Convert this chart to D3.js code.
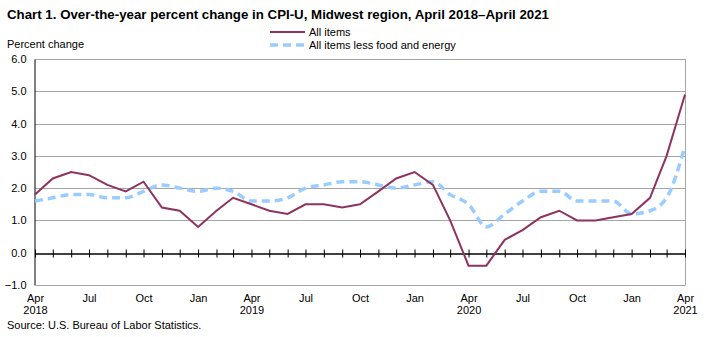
<!DOCTYPE html>
<html>
<head>
<meta charset="utf-8">
<script src="https://cdn.jsdelivr.net/npm/d3@7"></script>
<style>
  body { margin: 0; background: #fff; }
  svg { display: block; font-family: "Liberation Sans", Arial, sans-serif; }
</style>
</head>
<body>
<div id="chart"></div>
<script>
// Monthly over-the-year % change, Apr 2018 .. Apr 2021
var months = d3.range(37).map(function(i) { return new Date(2018, 3 + i, 1); });
var allItems = [1.8, 2.3, 2.5, 2.4, 2.1, 1.9, 2.2, 1.4, 1.3, 0.8, 1.3, 1.7,
                1.5, 1.3, 1.2, 1.5, 1.5, 1.4, 1.5, 1.9, 2.3, 2.5, 2.1, 1.0,
                -0.4, -0.4, 0.4, 0.7, 1.1, 1.3, 1.0, 1.0, 1.1, 1.2, 1.7, 3.0,
                4.9];
var coreItems = [1.6, 1.7, 1.8, 1.8, 1.7, 1.7, 1.9, 2.1, 2.0, 1.9, 2.0, 1.9,
                 1.6, 1.6, 1.7, 2.0, 2.1, 2.2, 2.2, 2.1, 2.0, 2.1, 2.2, 1.8,
                 1.5, 0.8, 1.2, 1.6, 1.9, 1.9, 1.6, 1.6, 1.6, 1.2, 1.3, 1.7,
                 3.3];
var yTicks = [-1, 0, 1, 2, 3, 4, 5, 6];
var monthNames = {0: "Jan", 3: "Apr", 6: "Jul", 9: "Oct"};

var W = 712, H = 337;
var margin = {top: 59, right: 27, bottom: 52, left: 35};
var width = W - margin.left - margin.right,
    height = H - margin.top - margin.bottom;

var svg = d3.select("#chart").append("svg")
    .attr("width", W)
    .attr("height", H);

svg.append("text")
    .attr("x", 7).attr("y", 19)
    .attr("font-size", 13).attr("font-weight", "bold")
    .attr("textLength", 542).attr("lengthAdjust", "spacingAndGlyphs")
    .text("Chart 1. Over-the-year percent change in CPI-U, Midwest region, April 2018\u2013April 2021");

svg.append("text")
    .attr("x", 7).attr("y", 48)
    .attr("font-size", 11)
    .text("Percent change");

svg.append("text")
    .attr("x", 7).attr("y", 329)
    .attr("font-size", 11)
    .text("Source: U.S. Bureau of Labor Statistics.");

var g = svg.append("g")
    .attr("transform", "translate(" + margin.left + "," + margin.top + ")");

var x = d3.scaleTime()
    .domain([months[0], months[months.length - 1]])
    .range([0, width]);
var y = d3.scaleLinear()
    .domain([-1, 6])
    .range([height, 0]);

// gridlines + frame
g.selectAll(".grid")
  .data(yTicks.filter(function(d) { return d !== 0; }))
  .enter().append("line")
    .attr("x1", 0).attr("x2", width)
    .attr("y1", function(d) { return Math.round(y(d)) + 0.5; })
    .attr("y2", function(d) { return Math.round(y(d)) + 0.5; })
    .attr("stroke", "#a6a6a6");
g.append("line")
    .attr("x1", width + 0.5).attr("x2", width + 0.5)
    .attr("y1", 0).attr("y2", height)
    .attr("stroke", "#a6a6a6");

// y axis
var yAxis = g.append("g")
    .attr("transform", "translate(-0.5,0)")
    .call(d3.axisLeft(y).tickValues(yTicks).tickSize(0).tickPadding(8)
      .tickFormat(d3.format(".1f")));
yAxis.select(".domain").attr("stroke", "#000");
yAxis.selectAll("text").attr("font-size", 11).attr("fill", "#000")
    .attr("font-family", "Liberation Sans, Arial, sans-serif");

// zero line with monthly ticks
var zero = g.append("g")
    .attr("transform", "translate(0," + (Math.round(y(0)) + 0.5) + ")")
    .call(d3.axisBottom(x).tickValues(months).tickSizeInner(4).tickSizeOuter(0)
      .tickFormat(""));
zero.select(".domain").attr("stroke", "#000").attr("stroke-width", 1.5);
zero.selectAll(".tick line").attr("y1", -4).attr("stroke", "#000");

// month / year labels along the bottom
var lab = g.append("g")
    .attr("transform", "translate(0," + height + ")")
    .call(d3.axisBottom(x)
      .tickValues(months.filter(function(d) { return d.getMonth() % 3 === 0; }))
      .tickSize(0).tickPadding(9)
      .tickFormat(function(d) { return monthNames[d.getMonth()]; }));
lab.select(".domain").remove();
lab.selectAll("text").attr("font-size", 11).attr("fill", "#000")
    .attr("font-family", "Liberation Sans, Arial, sans-serif");
lab.selectAll(".tick")
  .filter(function(d) { return d.getMonth() === 3; })
  .append("text")
    .attr("y", 21).attr("dy", "0.71em")
    .attr("font-size", 11).attr("fill", "#000")
    .attr("font-family", "Liberation Sans, Arial, sans-serif")
    .text(function(d) { return d.getFullYear(); });

g.append("line")
    .attr("x1", 0).attr("x2", width + 0.5)
    .attr("y1", height + 0.5).attr("y2", height + 0.5)
    .attr("stroke", "#a6a6a6");

// series
var lineAll = d3.line()
    .x(function(d, i) { return x(months[i]); })
    .y(function(d) { return y(d); });
var lineCore = d3.line()
    .x(function(d, i) { return x(months[i]); })
    .y(function(d) { return y(d); })
    .curve(d3.curveMonotoneX);

g.append("path")
    .datum(coreItems)
    .attr("d", lineCore)
    .attr("fill", "none")
    .attr("stroke", "#99ccff")
    .attr("stroke-width", 3.5)
    .attr("stroke-dasharray", "8,5");

g.append("path")
    .datum(allItems)
    .attr("d", lineAll)
    .attr("fill", "none")
    .attr("stroke", "#8e3360")
    .attr("stroke-width", 2);

// legend
var legend = svg.append("g").attr("transform", "translate(270,0)");
var legItems = [
  {label: "All items", color: "#8e3360", w: 2, dash: null, y: 32},
  {label: "All items less food and energy", color: "#99ccff", w: 3.5, dash: "8,5", y: 45}
];
legItems.forEach(function(it) {
  legend.append("line")
      .attr("x1", 0).attr("x2", 35)
      .attr("y1", it.y).attr("y2", it.y)
      .attr("stroke", it.color)
      .attr("stroke-width", it.w)
      .attr("stroke-dasharray", it.dash);
  legend.append("text")
      .attr("x", 39).attr("y", it.y + 4)
      .attr("font-size", 11)
      .text(it.label);
});
</script>
</body>
</html>
